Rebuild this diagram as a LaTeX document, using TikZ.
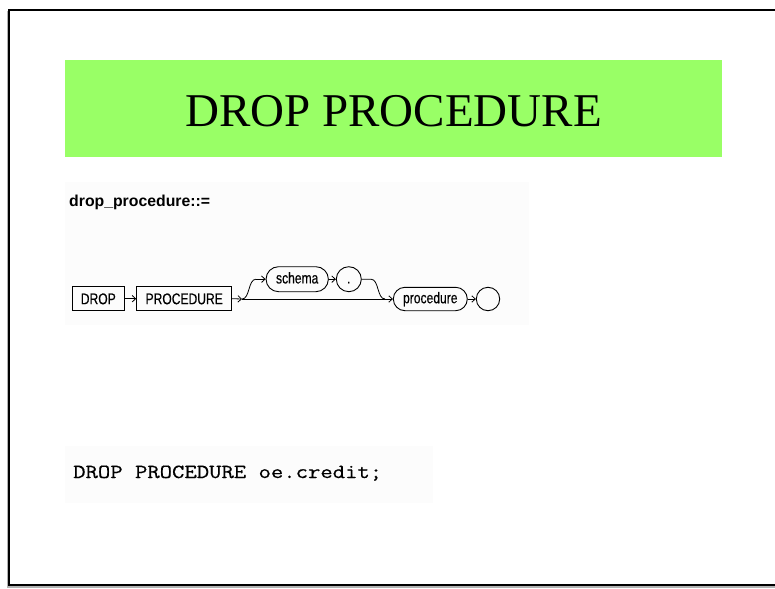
\documentclass[tikz,border=0pt]{standalone}
\usepackage{fontspec}
\setmainfont{Liberation Serif}
\newfontfamily\railfont[FakeStretch=0.78,FakeBold=0.4]{Liberation Sans}
\newfontfamily\labelfont{Liberation Sans}
\newfontfamily\codefont[FakeStretch=1.2,FakeBold=0.6]{Latin Modern Mono}
\usetikzlibrary{arrows.meta,shapes.misc}
\definecolor{titlegreen}{RGB}{153,255,102}
\definecolor{panelgray}{RGB}{252,252,252}
\tikzset{
  rail/.style={line width=0.8pt},
  railarrow/.style={rail,-{Straight Barb[length=3.5pt,width=6.5pt,line width=0.8pt]}},
  kwbox/.style={draw,rectangle,line width=0.9pt,minimum height=24pt,inner sep=0pt,
    font=\railfont\fontsize{15.5}{15.5}\selectfont,text height=11pt,text depth=0pt},
  ovalbox/.style={draw,rounded rectangle,line width=0.9pt,inner sep=0pt,
    font=\railfont\fontsize{15.5}{15.5}\selectfont,text height=8.5pt,text depth=0pt},
}
\begin{document}
\begin{tikzpicture}[x=1pt,y=-1pt]
\useasboundingbox (0,0) rectangle (775,588);
\clip (0,0) rectangle (775,588);
\fill[white] (0,0) rectangle (775,588);

% slide frame with a soft shadow
\draw[gray!60,line width=3pt] (8,11) -- (8,586) -- (790,586);
\draw[black,line width=2pt] (790,10) -- (9,10) -- (9,585) -- (790,585);

% title banner
\fill[titlegreen] (65,60) rectangle (722,157);
\node[font=\fontsize{47}{47}\selectfont,anchor=base] (title) at (393.5,127) {DROP PROCEDURE};

% syntax diagram panel
\fill[panelgray] (65,182) rectangle (529,325);
\node[font=\labelfont\bfseries\fontsize{15.8}{15.8}\selectfont,anchor=base west,inner sep=0pt]
  (rule) at (69,206) {drop\_procedure::=};

\node[kwbox,minimum width=51.3pt] (drop) at (98.3,298.7) {DROP};
\node[kwbox,minimum width=95pt] (kwproc) at (184.2,298.7) {PROCEDURE};
\node[ovalbox,minimum width=62.3pt,minimum height=25pt] (schema) at (297.2,279.2) {schema};
\node[ovalbox,minimum width=22.3pt,minimum height=25pt] (dot) at (348.8,279.2) {.};
\node[ovalbox,minimum width=74pt,minimum height=23.4pt] (procname) at (430.3,299) {procedure};
\node[ovalbox,minimum width=22.6pt,minimum height=23.4pt] (stop) at (488,299) {};

\coordinate (split) at (242,299);
\coordinate (rise) at (256,279.2);
\coordinate (fall) at (371,279.2);
\coordinate (join) at (385,299);

\draw[railarrow] (drop.east) -- (drop.east -| kwproc.west);
\draw[railarrow] (kwproc.east) -- (split);
\draw[railarrow] (split) -- (procname.west);
\draw[rail] (split) .. controls (250,299) and (248,279.2) .. (rise);
\draw[railarrow] (rise) -- (schema.west);
\draw[railarrow] (schema.east) -- (dot.west);
\draw[rail] (dot.east) -- (fall) .. controls (379,279.2) and (377,299) .. (join);
\draw[railarrow] (procname.east) -- (stop.west);

% example statement panel
\fill[panelgray] (65,446) rectangle (433,503);
\node[font=\codefont\fontsize{20}{20}\selectfont,anchor=base west,inner sep=0pt]
  (example) at (73,478) {DROP PROCEDURE oe.credit;};
\end{tikzpicture}
\end{document}
